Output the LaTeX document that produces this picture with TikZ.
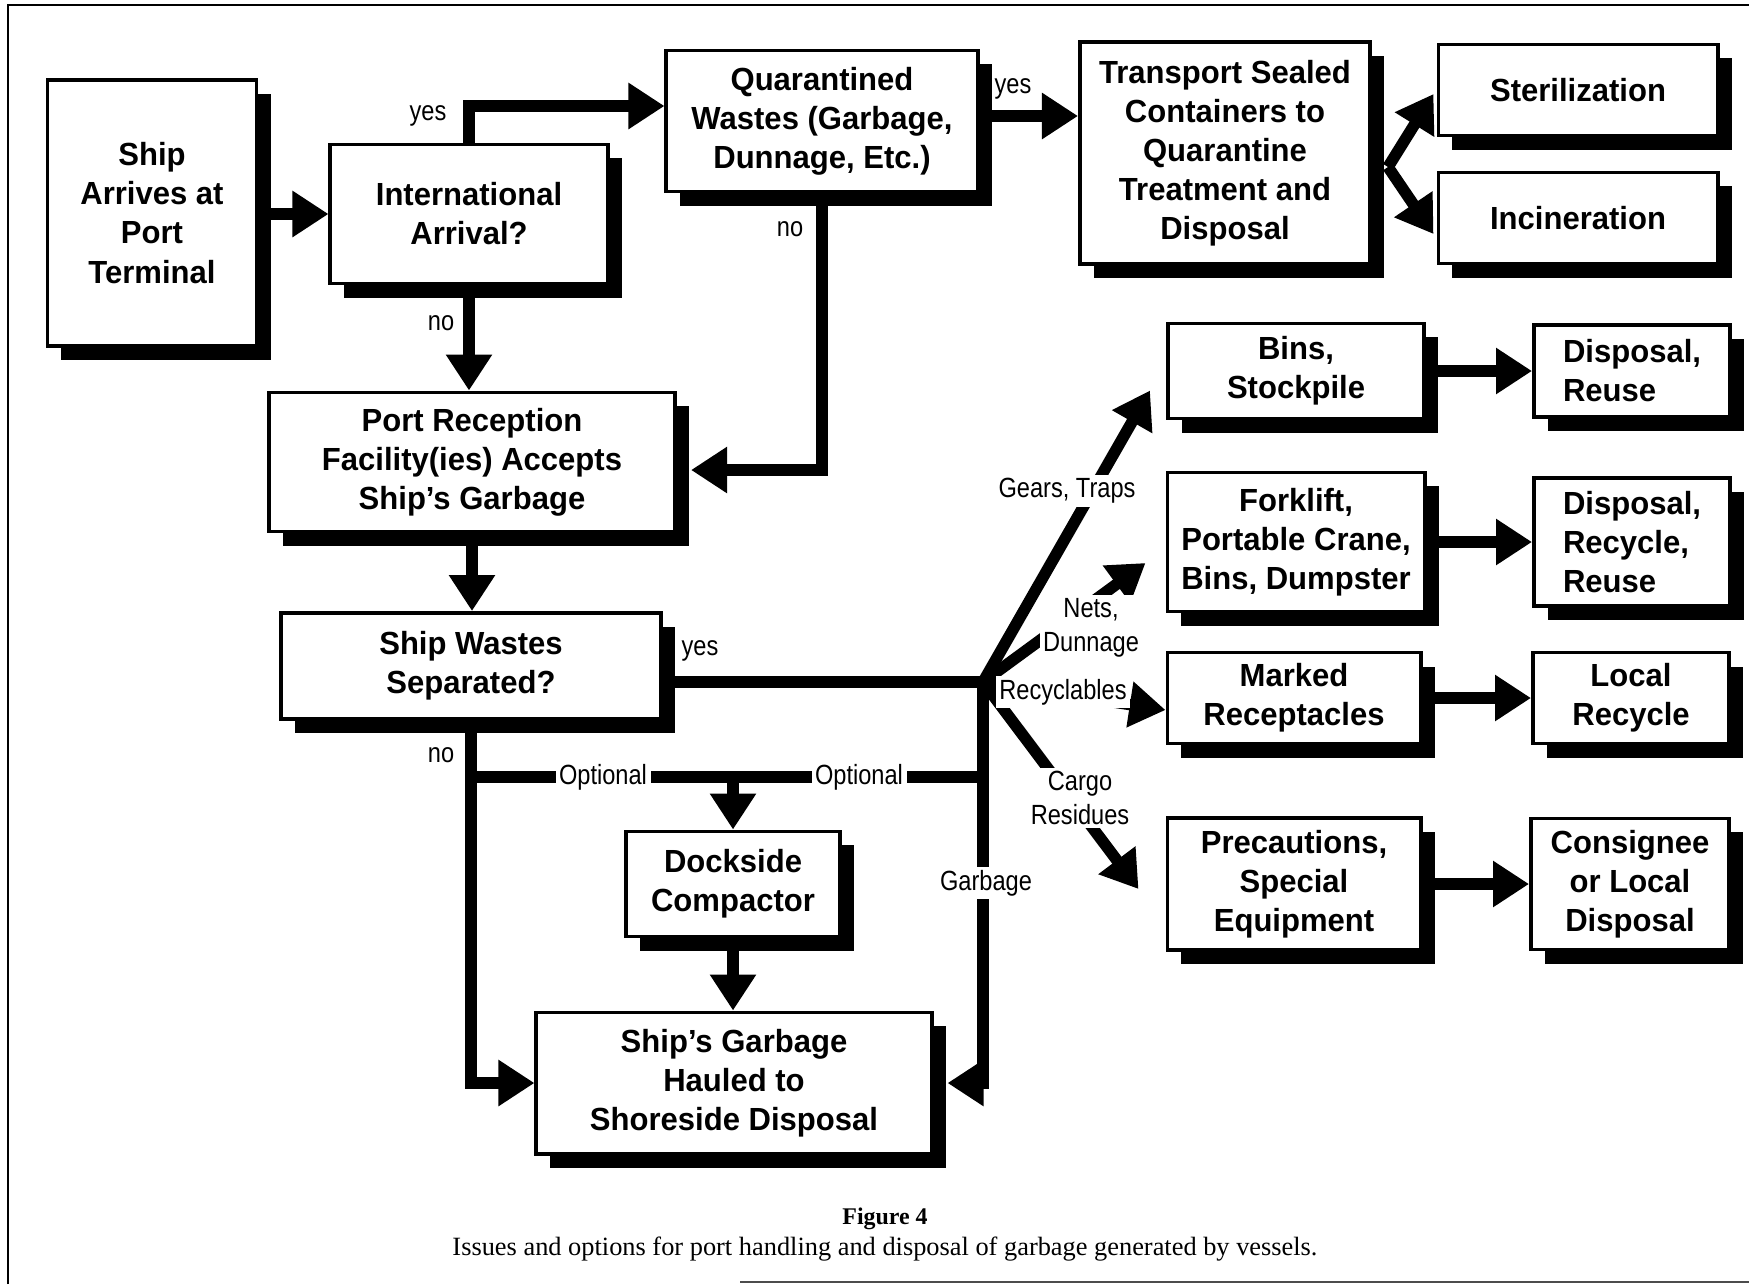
\documentclass[tikz,border=0pt]{standalone}
\usepackage{fontspec}
\usetikzlibrary{arrows.meta,shadows,calc}
\newfontfamily\boxfont[FakeStretch=0.97]{Liberation Sans}
\newfontfamily\lblfont[FakeStretch=0.85]{Liberation Sans}
\newfontfamily\capfont{Liberation Serif}
\begin{document}
\begin{tikzpicture}[x=0.01cm, y=-0.01cm,
  box/.style={draw, line width=1.1pt, fill=white, align=center, inner sep=0pt,
    font=\boxfont\bfseries\fontsize{9.1}{11.1}\selectfont,
    drop shadow={shadow xshift=0.14cm, shadow yshift=-0.14cm, opacity=1, fill=black}},
  conn/.style={line width=0.115cm, -{Triangle[length=0.36cm,width=0.44cm]}},
  wire/.style={line width=0.115cm},
  lbl/.style={font=\lblfont\fontsize{7.9}{9.7}\selectfont, inner sep=1pt, align=center},
  cut/.style={lbl, fill=white}]
\useasboundingbox (0,0) rectangle (1749,1284);
\draw[line width=0.7pt] (8,1284) -- (8,5) -- (1749,5); %frame
\draw[line width=0.7pt, black!70] (740,1282) -- (1749,1282);
% boxes
\node[box, minimum width=2.09cm, minimum height=2.65cm] (ship) at (152,213) {Ship\\Arrives at\\Port\\Terminal};
\node[box, minimum width=2.77cm, minimum height=1.39cm] (intl) at (469,214) {International\\Arrival?};
\node[box, minimum width=3.11cm, minimum height=1.41cm] (quar) at (822,121) {Quarantined\\Wastes (Garbage,\\Dunnage, Etc.)};
\node[box, minimum width=2.90cm, minimum height=2.22cm] (trans) at (1225,153) {Transport Sealed\\Containers to\\Quarantine\\Treatment and\\Disposal};
\node[box, minimum width=2.79cm, minimum height=0.91cm] (steril) at (1578,90) {Sterilization};
\node[box, minimum width=2.79cm, minimum height=0.91cm] (incin) at (1578,218) {Incineration};
\node[box, minimum width=4.06cm, minimum height=1.39cm] (recep) at (472,462) {Port Reception\\Facility(ies) Accepts\\Ship’s Garbage};
\node[box, minimum width=3.80cm, minimum height=1.06cm] (sep) at (471,666) {Ship Wastes\\Separated?};
\node[box, minimum width=2.14cm, minimum height=1.05cm] (comp) at (733,884) {Dockside\\Compactor};
\node[box, minimum width=3.95cm, minimum height=1.41cm] (haul) at (734,1083) {Ship’s Garbage\\Hauled to\\Shoreside Disposal};
\node[box, minimum width=2.56cm, minimum height=0.95cm] (bins) at (1296,371) {Bins,\\Stockpile};
\node[box, align=left, minimum width=1.96cm, minimum height=0.92cm] (dr) at (1632,371) {Disposal,\\Reuse};
\node[box, minimum width=2.57cm, minimum height=1.39cm] (fork) at (1296,542) {Forklift,\\Portable Crane,\\Bins, Dumpster};
\node[box, align=left, minimum width=1.96cm, minimum height=1.28cm] (drr) at (1632,542) {Disposal,\\Recycle,\\Reuse};
\node[box, minimum width=2.53cm, minimum height=0.91cm] (marked) at (1294,698) {Marked\\Receptacles};
\node[box, minimum width=1.96cm, minimum height=0.91cm] (local) at (1631,698) {Local\\Recycle};
\node[box, minimum width=2.53cm, minimum height=1.32cm] (prec) at (1294,884) {Precautions,\\Special\\Equipment};
\node[box, minimum width=1.98cm, minimum height=1.31cm] (cons) at (1630,884) {Consignee\\or Local\\Disposal};
% turning points
\coordinate (yesA) at (469,106);
\coordinate (yesB) at (978,116);
\coordinate (noB) at (822,470);
\coordinate (hub) at (983,682);
\coordinate (opt) at (733,777);
\coordinate (split) at ($(trans.east)+(16,14)$);
% connectors
\draw[conn] (ship.east |- intl.west) -- (intl.west);
\draw[conn] (intl.north) |- (quar.west |- yesA); %yes
\draw[conn] (intl.south) -- (intl.south |- recep.north); %no
\draw[conn] (quar.east |- yesB) -- (trans.west |- yesB); %yes
\draw[conn] (quar.south) |- ($(recep.east |- noB)+(14,0)$); %no
\draw[conn] (split) -- ($(steril.west)+(-3,4)$);
\draw[conn] (split) -- ($(incin.west)+(-3,16)$);
\draw[conn] (recep.south) -- (recep.south |- sep.north);
\draw[conn] (sep.east |- hub) -- (hub) |- ($(haul.east)+(14,0)$); %yes, garbage
\draw[conn] (sep.south) |- (haul.west); %no
\draw[wire] (sep.south |- opt) -- (hub |- opt); %optional
\draw[conn] (opt) -- (comp.north);
\draw[conn] (comp.south) -- (comp.south |- haul.north);
\draw[conn] (hub) -- ($(bins.south west)+(-16,-30)$); %gears
\draw[conn] (hub) -- ($(fork.west)+(-20,21)$); %nets
\draw[conn] (hub) -- ($(marked.west)+(0,12)$); %recyclables
\draw[conn] (hub) -- ($(prec.west)+(-27,5)$); %cargo
\draw[conn] (bins) -- (dr);
\draw[conn] (fork) -- (drr);
\draw[conn] (marked) -- (local);
\draw[conn] (prec) -- (cons);
% labels
\node[lbl] (yes1) at (428,116) {yes};
\node[lbl] (no1) at (441,323) {no};
\node[lbl] (yes2) at (1013,89) {yes};
\node[lbl] (no2) at (790,229) {no};
\node[lbl] (yes3) at (700,651) {yes};
\node[lbl] (no3) at (441,755) {no};
\node[cut] (opt1) at (603,777) {Optional};
\node[cut] (opt2) at (859,777) {Optional};
\node[cut] (garb) at (986,883) {Garbage};
\node[cut] (gears) at (1067,491) {Gears, Traps};
\node[cut] (nets) at (1091,628) {Nets,\\Dunnage};
\node[cut] (recyc) at (1063,692) {Recyclables};
\node[cut] (cargo) at (1080,798) {Cargo\\Residues};
% caption
\node[font=\capfont\bfseries\fontsize{6.8}{8}\selectfont] (fig) at (885,1219) {Figure 4};
\node[font=\capfont\fontsize{7.5}{9}\selectfont] (cap) at (885,1249) {Issues and options for port handling and disposal of garbage generated by vessels.};
\end{tikzpicture}
\end{document}
